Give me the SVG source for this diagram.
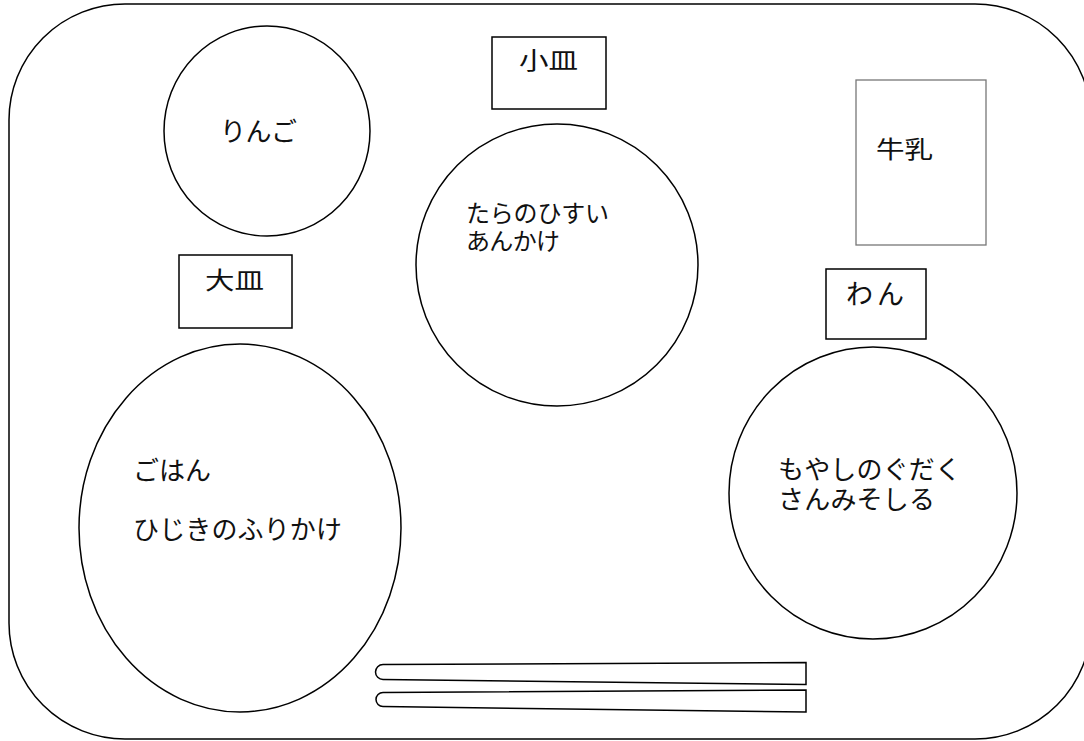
<svg xmlns="http://www.w3.org/2000/svg" width="1084" height="741" viewBox="0 0 1084 741">
<style>
.s{fill:#fff;stroke:#000;stroke-width:1.5}
.g{fill:#fff;stroke:#777;stroke-width:1.3}
.t{font-family:"Noto Sans CJK JP","Noto Sans CJK SC",sans-serif;font-size:24px;fill:#111}
.b{font-size:26px}
</style>
<rect width="1084" height="741" fill="#fff"/>
<g id="tray"><rect class="s" x="9" y="4" width="1082" height="735" rx="116" ry="116"/></g>
<g id="ringo"><ellipse class="s" cx="267" cy="131" rx="103" ry="105"/><text class="t b" x="220" y="141" textLength="77" lengthAdjust="spacing">りんご</text></g>
<g id="kozara-label"><rect class="s" x="492" y="37" width="114" height="72"/><text class="t" x="519" y="69" textLength="59" lengthAdjust="spacingAndGlyphs">小皿</text></g>
<g id="kozara"><ellipse class="s" cx="557" cy="265" rx="141" ry="141"/><text class="t" x="466" y="222" textLength="143" lengthAdjust="spacing">たらのひすい</text><text class="t" x="466" y="250" textLength="94" lengthAdjust="spacing">あんかけ</text></g>
<g id="milk"><rect class="g" x="856" y="80" width="130" height="165"/><text class="t" x="876" y="158" textLength="57" lengthAdjust="spacingAndGlyphs">牛乳</text></g>
<g id="ozara-label"><rect class="s" x="179" y="255" width="113" height="73"/><text class="t" x="205" y="289" textLength="59" lengthAdjust="spacingAndGlyphs">大皿</text></g>
<g id="ozara"><ellipse class="s" cx="240" cy="528" rx="161" ry="184"/><text class="t b" x="133" y="480" textLength="78" lengthAdjust="spacing">ごはん</text><text class="t b" x="133" y="539" textLength="209" lengthAdjust="spacing">ひじきのふりかけ</text></g>
<g id="wan-label"><rect class="s" x="826" y="269" width="100" height="70"/><text class="t" x="846" y="304" style="font-size:27px" textLength="58" lengthAdjust="spacing">わん</text></g>
<g id="wan"><ellipse class="s" cx="873" cy="493" rx="144" ry="146"/><text class="t b" x="778" y="479" textLength="183" lengthAdjust="spacing">もやしのぐだく</text><text class="t b" x="778" y="509" textLength="157" lengthAdjust="spacing">さんみそしる</text></g>
<g id="hashi">
<path class="s" d="M383,664.5 L806,662.5 L806,684.5 L383,679.5 A7.5,7.5 0 0 1 383,664.5 Z"/>
<path class="s" d="M383,692.5 L806,690 L806,712 L383,706.5 A7,7 0 0 1 383,692.5 Z"/>
</g>
</svg>
